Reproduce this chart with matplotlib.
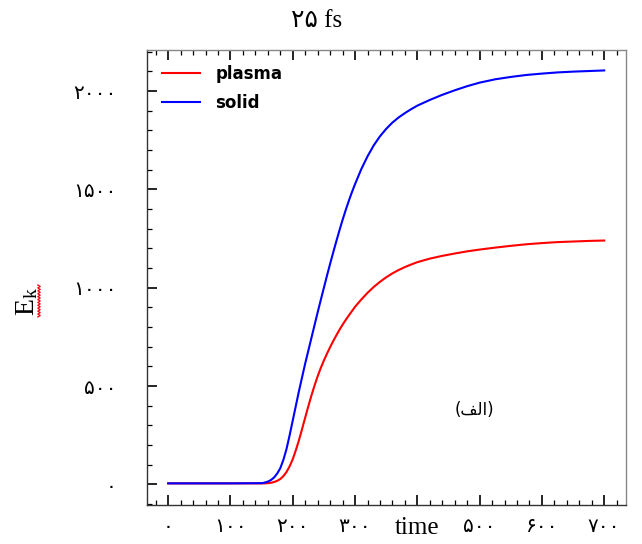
import numpy as np
import matplotlib
matplotlib.use("Agg")
import matplotlib.pyplot as plt
from matplotlib.ticker import MultipleLocator, FixedLocator
from matplotlib.lines import Line2D

# ---- data ----
time = [0, 100, 150, 155, 160, 165, 170, 175, 180, 185, 190, 195, 200, 205, 210,
        215, 220, 225, 230, 235, 240, 245, 250, 255, 260, 265, 270, 275, 280, 285,
        290, 295, 300, 310, 320, 330, 340, 350, 360, 370, 380, 390, 400, 420, 440,
        460, 480, 500, 525, 550, 575, 600, 625, 650, 675, 700]
solid = [5, 5, 6, 9, 14, 22, 35, 55, 82, 125, 180, 250, 325, 400, 475,
         545, 615, 680, 745, 810, 875, 938, 1000, 1062, 1122, 1180, 1237, 1292, 1345, 1395,
         1442, 1486, 1527, 1603, 1668, 1724, 1770, 1808, 1840, 1866, 1888, 1908, 1926, 1955, 1981,
         2004, 2025, 2043, 2060, 2072, 2082, 2089, 2095, 2099, 2102, 2105]
plasma = [5, 5, 5, 5, 6, 8, 12, 18, 27, 42, 63, 92, 128, 174, 225,
          282, 340, 397, 452, 503, 550, 592, 630, 665, 698, 729, 758, 786, 812, 836,
          859, 881, 903, 940, 974, 1004, 1030, 1053, 1073, 1090, 1105, 1118, 1130, 1148, 1162,
          1174, 1185, 1194, 1204, 1213, 1221, 1227, 1232, 1235, 1238, 1240]

x_ticks = [0, 100, 200, 300, 400, 500, 600, 700]
x_tick_labels = ['۰', '۱۰۰', '۲۰۰', '۳۰۰', 'time', '۵۰۰', '۶۰۰', '۷۰۰']
y_ticks = [0, 500, 1000, 1500, 2000]
y_tick_labels = ['۰', '۵۰۰', '۱۰۰۰', '۱۵۰۰', '۲۰۰۰']
title_text = '۲۵ fs'
ylabel_text = r'$\mathrm{E}_{\mathrm{k}}$'
panel_text = '(' + '\ufed2\ufedf\ufe8d' + ')'   # (الف) in visual order

plt.rcParams['mathtext.fontset'] = 'custom'
plt.rcParams['mathtext.rm'] = 'Liberation Serif'
plt.rcParams['mathtext.it'] = 'Liberation Serif:italic'

W, H = 642, 544
fig = plt.figure(figsize=(W / 100, H / 100), dpi=100)
ax = fig.add_axes([147 / W, 1 - 505 / H, (626 - 147) / W, (505 - 50) / H])

ax.plot(time, plasma, color='#ff0000', lw=1.5, label='plasma')
ax.plot(time, solid, color='#0000ff', lw=1.5, label='solid')

ax.set_xlim(-34, 735)
ax.set_ylim(-105, 2209)

ax.xaxis.set_major_locator(FixedLocator(x_ticks))
ax.xaxis.set_minor_locator(MultipleLocator(20))
ax.yaxis.set_major_locator(FixedLocator(y_ticks))
ax.yaxis.set_minor_locator(MultipleLocator(100))
ax.set_xticklabels(x_tick_labels, fontsize=14.5, family=['DejaVu Sans'])
ax.set_yticklabels(y_tick_labels, fontsize=14.5, family=['DejaVu Sans'])
for lab in ax.get_xticklabels():
    if lab.get_text() == 'time':
        lab.set_fontfamily(['Liberation Serif', 'DejaVu Sans'])
        lab.set_fontsize(18)

ax.tick_params(axis='x', which='both', direction='in', top=True, bottom=True,
               labeltop=False, pad=9, color='black')
ax.tick_params(axis='y', which='both', direction='in', left=True, right=False,
               pad=22, color='black')
ax.tick_params(which='major', length=7, width=1.2)
ax.tick_params(which='minor', length=3.5, width=0.9)

for s in ['left', 'bottom']:
    ax.spines[s].set_color('#333333')
for s in ['top', 'right']:
    ax.spines[s].set_color('#888888')
for s in ax.spines.values():
    s.set_linewidth(1.0)

leg = ax.legend(loc='upper left', frameon=False,
                prop={'family': 'DejaVu Sans', 'weight': 'bold', 'size': 12},
                handlelength=2.3, handletextpad=0.9, labelspacing=0.65,
                borderaxespad=0.6, borderpad=0.3)

ax.text(491, 378, panel_text, fontsize=12, family=['DejaVu Sans'],
        ha='center', va='center')

fig.text(0.493, 1 - 21 / H, title_text, fontsize=18,
         family=['Liberation Serif', 'DejaVu Sans'], ha='center', va='center')

fig.text(26 / W, 1 - 301 / H, ylabel_text, fontsize=20, rotation=90,
         ha='center', va='center')

# red wavy spell-check underline next to the y label
yy = np.linspace(1 - 317 / H, 1 - 285 / H, 23)
xx = (39 + np.where(np.arange(23) % 2 == 0, -1.2, 1.2)) / W
fig.add_artist(Line2D(xx, yy, transform=fig.transFigure, color='red', lw=0.9))

fig.savefig('out.png', dpi=100, facecolor='white')
